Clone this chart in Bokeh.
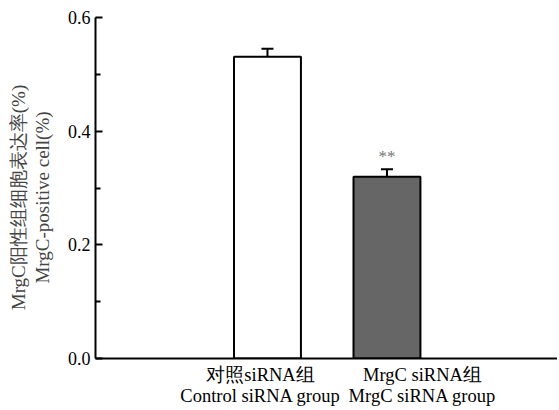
from bokeh.plotting import figure
from bokeh.models import Range1d, FixedTicker, Whisker, ColumnDataSource, TeeHead, LinearAxis
from bokeh.core.properties import value
from bokeh.embed import file_html
from bokeh.resources import INLINE

# ---- data ----
groups_cn = ["对照siRNA组", "MrgC siRNA组"]
groups_en = ["Control siRNA group", "MrgC siRNA group"]
group_x = [1, 2]
label_x = [0.942, 2.297]
means = [0.531, 0.320]
errors = [0.014, 0.013]
bar_colors = ["#ffffff", "#666666"]
y_ticks = [0.0, 0.2, 0.4, 0.6]
y_minor = [0.1, 0.3, 0.5]
y_tick_labels = ["0.0", "0.2", "0.4", "0.6"]
signif = ["", "**"]
ylabel_cn = "MrgC阳性组细胞表达率(%)"
ylabel_en = "MrgC-positive cell(%)"

SERIF = "Liberation Serif"
FS_TICK = "18px"
FS_CAT = "18.5px"
FS_Y = "19px"
PAD = "\u00a0" * 4  # nudges the rotated labels slightly below frame centre

p = figure(width=557, height=408, output_backend="svg", toolbar_location=None,
           x_range=Range1d(-0.439, 3.427), y_range=Range1d(0, 0.6),
           min_border_left=95, min_border_right=0, min_border_top=17, min_border_bottom=46)
p.outline_line_color = None
p.xgrid.visible = False
p.ygrid.visible = False
p.background_fill_color = "white"

src = ColumnDataSource(dict(x=group_x, top=means, color=bar_colors,
                            upper=[m + e for m, e in zip(means, errors)],
                            lab=signif))
p.vbar(x="x", top="top", bottom=0, width=0.56, fill_color="color",
       line_color="black", line_width=2, source=src)

w = Whisker(base="x", lower="top", upper="upper", source=src, dimension="height",
            line_color="black", line_width=2,
            upper_head=TeeHead(size=12, line_color="black", line_width=2),
            lower_head=None)
p.add_layout(w)

p.text(x="x", y="upper", text="lab", source=src, text_align="center",
       text_baseline="middle", y_offset=-13, text_color="#777777",
       text_font=value(SERIF), text_font_size="17px")

# y axis (ticks + English label)
ya = p.yaxis[0]
ya.ticker = FixedTicker(ticks=y_ticks, minor_ticks=y_minor)
ya.major_label_overrides = {t: l for t, l in zip(y_ticks, y_tick_labels)}
ya.axis_line_width = 2
ya.major_tick_line_width = 2
ya.minor_tick_line_width = 2
ya.major_tick_in = 7
ya.major_tick_out = 0
ya.minor_tick_in = 5
ya.minor_tick_out = 0
ya.major_label_standoff = 5
ya.major_label_text_font = SERIF
ya.major_label_text_font_size = FS_TICK
ya.major_label_text_color = "black"
ya.axis_label = ylabel_en + PAD
ya.axis_label_text_font = SERIF
ya.axis_label_text_font_size = FS_Y
ya.axis_label_text_font_style = "normal"
ya.axis_label_standoff = 12

# second left axis carrying the Chinese label line
ya2 = LinearAxis(ticker=FixedTicker(ticks=[]),
                 axis_line_color=None, major_tick_line_color=None,
                 minor_tick_line_color=None, major_label_text_font_size="0px",
                 axis_label=ylabel_cn + PAD, axis_label_text_font=SERIF,
                 axis_label_text_font_size=FS_Y, axis_label_text_font_style="normal",
                 axis_label_standoff=0)
p.add_layout(ya2, "left")

# x axis (line + Chinese category labels)
xa = p.xaxis[0]
xa.ticker = FixedTicker(ticks=label_x)
xa.major_label_overrides = {x: t for x, t in zip(label_x, groups_cn)}
xa.axis_line_width = 2
xa.major_tick_line_color = None
xa.minor_tick_line_color = None
xa.major_tick_out = 0
xa.major_label_standoff = 6
xa.major_label_text_font = SERIF
xa.major_label_text_font_size = FS_CAT
xa.major_label_text_color = "black"

xa2 = LinearAxis(ticker=FixedTicker(ticks=label_x),
                 major_label_overrides={x: t for x, t in zip(label_x, groups_en)},
                 axis_line_color=None, major_tick_line_color=None,
                 minor_tick_line_color=None, major_tick_out=0,
                 major_label_standoff=-2, major_label_text_font=SERIF,
                 major_label_text_font_size=FS_CAT, major_label_text_color="black")
p.add_layout(xa2, "below")

open("out.html", "w").write(file_html(p, INLINE))
